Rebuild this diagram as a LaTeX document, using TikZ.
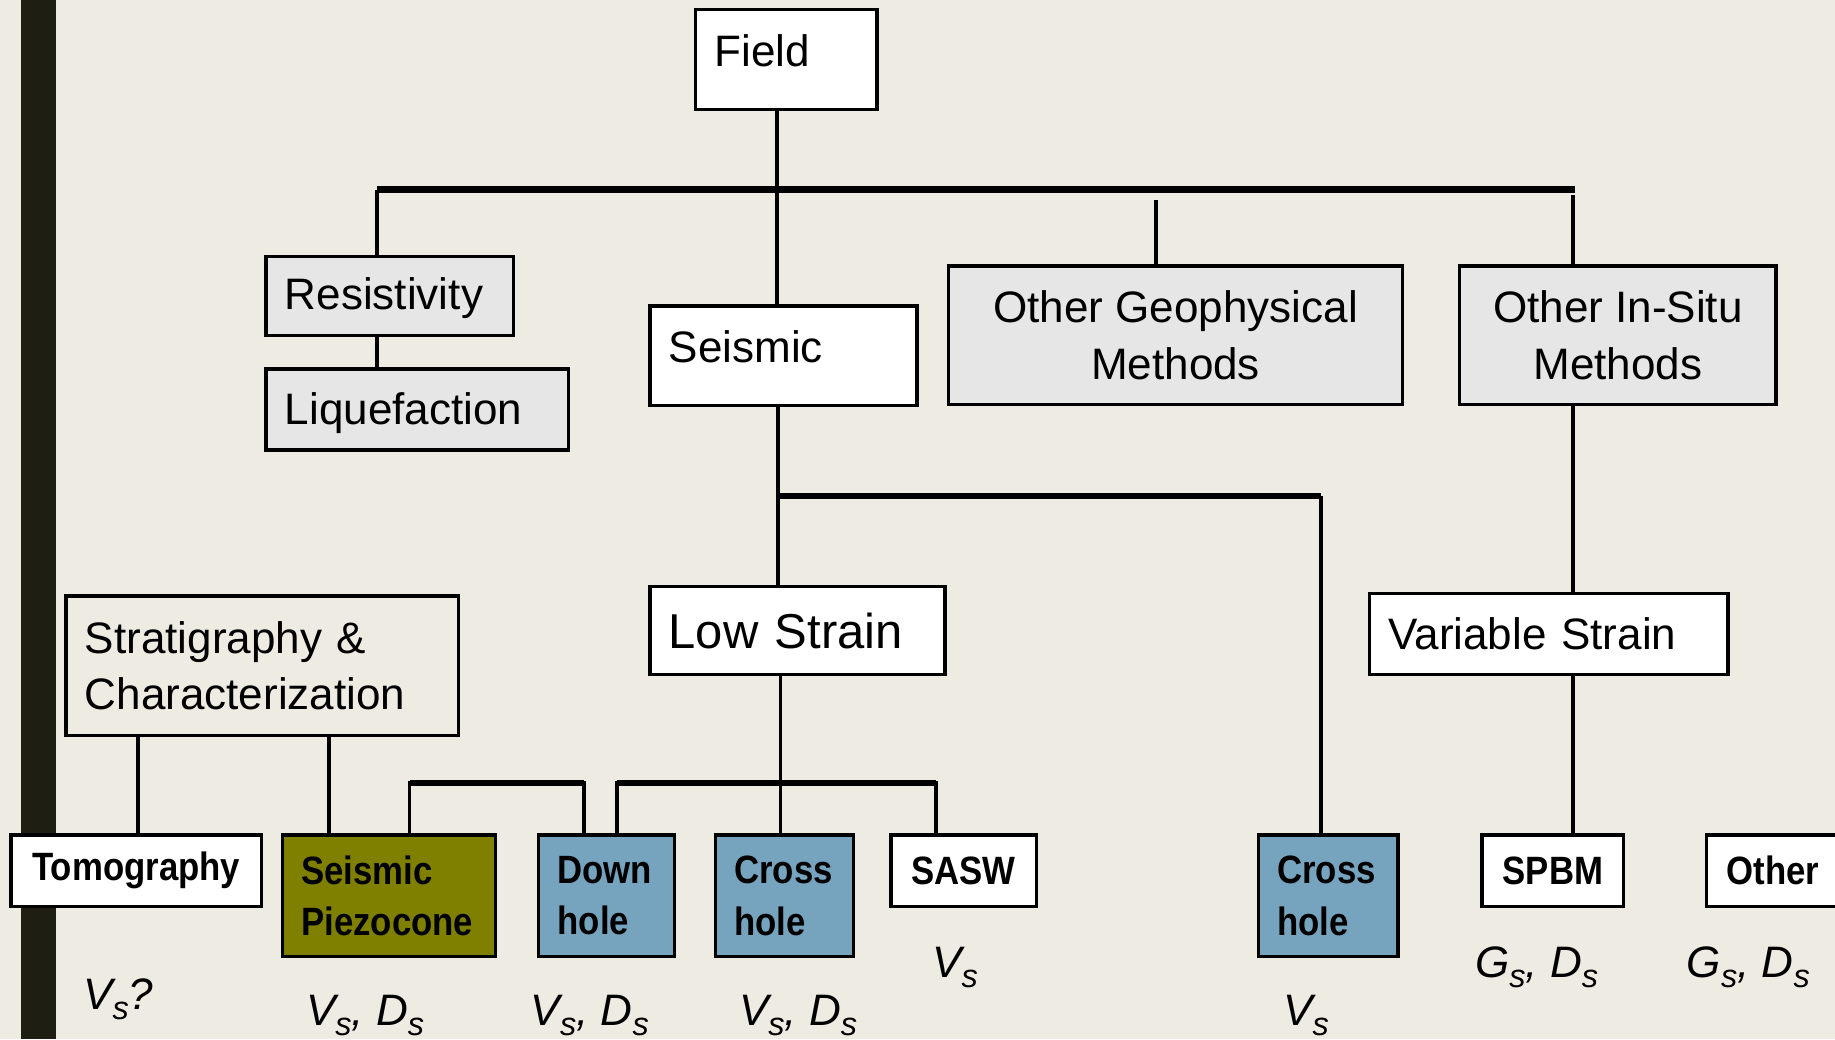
\documentclass[tikz,border=0pt]{standalone}
\usepackage{fontspec}
\setmainfont{Liberation Sans}
\newfontfamily\narrowfont[FakeStretch=0.88]{Liberation Sans}
\newcommand\lowsub[1]{\raisebox{-2.4pt}{\fontsize{7.9}{8}\selectfont #1}}
\definecolor{paper}{HTML}{EEEBE3}
\definecolor{rail}{HTML}{1E1E12}
\definecolor{lightbox}{HTML}{E6E6E6}
\definecolor{olivebox}{HTML}{7F7F00}
\definecolor{bluebox}{HTML}{76A4BF}

\begin{document}
\begin{tikzpicture}[x=0.01cm,y=-0.01cm,
  every node/.style={font=\fontsize{10.7}{13.8}\selectfont},
  box/.style={draw,line width=0.8pt,anchor=north west,inner xsep=0.16cm,align=left},
  cbox/.style={draw,line width=0.8pt,anchor=north west,align=center},
  grey/.style={fill=lightbox},
  plain/.style={fill=white},
  method/.style={font=\narrowfont\fontsize{9.6}{12.5}\selectfont\bfseries},
  link/.style={line width=0.9pt},
  bar/.style={line width=1.5pt},
  result/.style={anchor=base,font=\fontsize{10.7}{13}\selectfont\itshape}]
\fill[paper] (0,0) rectangle (1568,888);
\useasboundingbox (0,0) rectangle (1568,888);
\fill[rail] (18,0) rectangle (48,888);

% upper part of the tree
\node[box,plain,text width=1.23cm,minimum height=0.85cm,text depth=0.16cm] (field) at (593,7) {Field};
\node[box,grey,text width=1.79cm,minimum height=0.67cm,text depth=0.05cm] (resist) at (226,218) {Resistivity};
\node[box,grey,text width=2.26cm,minimum height=0.69cm,text depth=0.02cm] (liquef) at (226,314) {Liquefaction};
\node[box,plain,text width=1.96cm,minimum height=0.85cm,text depth=0.16cm] (seismic) at (554,260) {Seismic};
\node[cbox,grey,minimum width=3.88cm,minimum height=1.18cm] (othgeo) at (809,226) {Other Geophysical\\Methods};
\node[cbox,grey,minimum width=2.70cm,minimum height=1.18cm] (othsitu) at (1246,226) {Other In-Situ\\Methods};

% middle row
\node[box,text width=3.03cm,minimum height=1.19cm] (strat) at (55,508) {Stratigraphy \&\\Characterization};
\node[box,plain,text width=2.20cm,minimum height=0.75cm,font=\fontsize{11.9}{14}\selectfont] (lowstrain) at (554,500) {Low Strain};
\node[box,plain,text width=2.74cm,minimum height=0.69cm] (varstrain) at (1169,506) {Variable Strain};

% test methods
\node[cbox,plain,method,minimum width=2.14cm,minimum height=0.61cm] (tomo) at (8,712) {Tomography};
\node[box,method,fill=olivebox,text width=1.50cm,minimum height=1.04cm] (piezo) at (240,712) {Seismic\\Piezocone};
\node[box,method,fill=bluebox,text width=0.84cm,minimum height=1.04cm] (downhole) at (459,712) {Down\\hole};
\node[box,method,fill=bluebox,text width=0.86cm,minimum height=1.04cm] (crosshole) at (610,712) {Cross\\hole};
\node[cbox,plain,method,minimum width=1.24cm,minimum height=0.61cm] (sasw) at (760,712) {SASW};
\node[box,method,fill=bluebox,text width=0.87cm,minimum height=1.04cm] (cross2) at (1074,712) {Cross\\hole};
\node[cbox,plain,method,minimum width=1.21cm,minimum height=0.61cm] (spbm) at (1265,712) {SPBM};
\node[cbox,plain,method,minimum width=1.13cm,minimum height=0.61cm] (other) at (1457,712) {Other};

% measured quantities
\node[result] (vtomo) at (101,863) {V\lowsub{s}?};
\node[result] (vpiezo) at (312,876) {V\lowsub{s}, D\lowsub{s}};
\node[result] (vdown) at (504,876) {V\lowsub{s}, D\lowsub{s}};
\node[result] (vcross) at (682,876) {V\lowsub{s}, D\lowsub{s}};
\node[result] (vsasw) at (816,835) {V\lowsub{s}};
\node[result] (vcross2) at (1116,876) {V\lowsub{s}};
\node[result] (gspbm) at (1313,835) {G\lowsub{s}, D\lowsub{s}};
\node[result] (gother) at (1494,835) {G\lowsub{s}, D\lowsub{s}};

% connectors
\coordinate (spine) at (664,162);
\coordinate (tl) at (322,162);
\coordinate (tr) at (1346,162);
\coordinate (geo) at (988,171);
\coordinate (situ) at (1344,167);
\draw[link] (field.south -| spine) -- (seismic.north -| spine);
\draw[bar] (tl) -- (tr);
\draw[link] (tl) -- (resist.north -| tl);
\draw[link] (resist.south -| tl) -- (liquef.north -| tl);
\draw[link] (geo) -- (othgeo.north -| geo);
\draw[link] (situ) -- (othsitu.north -| situ);
\draw[link] (othsitu.south -| situ) -- (varstrain.north -| situ);
\draw[link] (varstrain.south -| situ) -- (spbm.north -| situ);

\coordinate (ml) at (665,424);
\coordinate (mr) at (1129,424);
\draw[link] (seismic.south -| ml) -- (lowstrain.north -| ml);
\draw[bar] (ml) -- (mr);
\draw[link] (mr) -- (cross2.north -| mr);

\coordinate (ls) at (667,669);
\coordinate (pa) at (350,669);
\coordinate (pb) at (499,669);
\coordinate (qa) at (527,669);
\coordinate (qb) at (800,669);
\draw[link] (lowstrain.south -| ls) -- (crosshole.north -| ls);
\draw[link] (piezo.north -| pa) -- (pa) -- (pb) -- (downhole.north -| pb);
\draw[link] (downhole.north -| qa) -- (qa) -- (qb) -- (sasw.north -| qb);
\draw[bar] (pa) -- (pb);
\draw[bar] (qa) -- (qb);

\coordinate (sa) at (118,627);
\coordinate (sb) at (281,627);
\draw[link] (strat.south -| sa) -- (tomo.north -| sa);
\draw[link] (strat.south -| sb) -- (piezo.north -| sb);
\end{tikzpicture}
\end{document}
